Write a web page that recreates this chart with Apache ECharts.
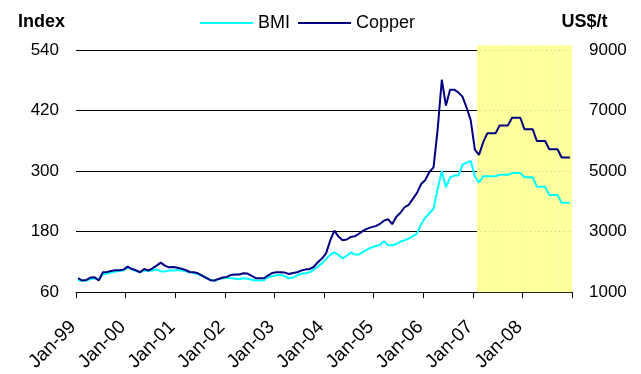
<!DOCTYPE html>
<html>
<head>
<meta charset="utf-8">
<script src="https://cdn.jsdelivr.net/npm/echarts@6/dist/echarts.min.js"></script>
<style>
  html, body { margin: 0; padding: 0; background: #ffffff; }
  #chart { width: 641px; height: 374px; }
</style>
</head>
<body>
<div id="chart"></div>
<script>
// Monthly categories, Jan-99 .. Dec-08
const years = ['99', '00', '01', '02', '03', '04', '05', '06', '07', '08'];
const monthNames = ['Jan', 'Feb', 'Mar', 'Apr', 'May', 'Jun', 'Jul', 'Aug', 'Sep', 'Oct', 'Nov', 'Dec'];
const months = [];
years.forEach(y => monthNames.forEach(m => months.push(m + '-' + y)));

// Base metals index (left axis)
const bmi = [
  84, 82.6, 83, 86, 87.5, 85, 95, 97, 99, 101, 102, 103,
  109, 105, 102, 100, 103, 102, 103, 105, 101, 101, 103, 103,
  104, 103, 102, 99, 98, 96, 92.5, 88.5, 84.6, 82.6, 85.6, 87.5,
  88.5, 87.5, 86.6, 85.6, 87.5, 86.6, 84.6, 83, 83, 83.6, 89.5, 91.5,
  93.4, 94.4, 91.5, 87.5, 88.5, 93.4, 96.4, 97.4, 99.3, 104.3, 110.2, 117,
  125.9, 133.8, 138.7, 133.8, 126.9, 131.8, 138.7, 134.7, 134.7, 139.7, 144.6, 148.5,
  151.5, 153.4, 160.9, 153.4, 153, 155.4, 160.3, 162.9, 166.2, 171.1, 176.1, 194.7,
  207.5, 216.4, 225.2, 264.6, 300, 267.9, 287.2, 291.1, 291.1, 312.8, 316.7, 320.2,
  289.2, 277.4, 289.5, 289.5, 289.5, 289.5, 292.7, 292.7, 292.7, 296, 296, 296,
  287.6, 287.6, 287.6, 269.1, 269.1, 269.1, 252.8, 252.8, 252.8, 237, 237, 237
];

// Copper price, US$/t (right axis)
const copper = [
  1459, 1384, 1403, 1482, 1492, 1384, 1656, 1666, 1699, 1721, 1721, 1744,
  1843, 1764, 1721, 1656, 1764, 1712, 1787, 1875, 1974, 1875, 1820, 1830,
  1803, 1771, 1731, 1666, 1656, 1623, 1548, 1469, 1393, 1384, 1436, 1482,
  1502, 1567, 1580, 1580, 1623, 1612, 1535, 1459, 1459, 1459, 1557, 1633,
  1656, 1656, 1645, 1600, 1633, 1656, 1712, 1744, 1764, 1830, 1990, 2110,
  2280, 2700, 3033, 2836, 2715, 2738, 2826, 2849, 2935, 3033, 3099, 3148,
  3180, 3253, 3361, 3410, 3246, 3492, 3623, 3804, 3886, 4082, 4279, 4574,
  4705, 4968, 5122, 6378, 8017, 7165, 7689, 7689, 7601, 7460, 7099, 6673,
  5705, 5535, 5950, 6246, 6246, 6246, 6509, 6509, 6509, 6761, 6761, 6761,
  6378, 6378, 6378, 5994, 5994, 5994, 5722, 5722, 5722, 5450, 5450, 5450
];

// Axis ranges
const indexAxis = { min: 60, max: 540, step: 120 };
const priceAxis = { min: 1000, max: 9000, step: 2000 };

// Forecast period, shaded in yellow
const forecastStart = 'Feb-07';
const forecastFrom = months.indexOf(forecastStart);
const forecastBand = months.map((m, i) => (i >= forecastFrom ? 102 : '-'));

const FONT = '"Liberation Sans", Arial, sans-serif';

const chart = echarts.init(document.getElementById('chart'), null, { renderer: 'canvas' });

chart.setOption({
  animation: false,
  backgroundColor: '#ffffff',
  textStyle: { fontFamily: FONT, color: '#000' },
  grid: { left: 76, right: 69, top: 50, bottom: 80, containLabel: false },
  legend: {
    data: ['BMI', 'Copper'],
    left: 200,
    top: 14,
    padding: 0,
    icon: 'rect',
    itemWidth: 53,
    itemHeight: 2,
    itemGap: 8,
    textStyle: { fontFamily: FONT, fontSize: 18, color: '#000' }
  },
  xAxis: {
    type: 'category',
    data: months,
    boundaryGap: true,
    axisLine: { show: true, lineStyle: { color: '#000', width: 1 } },
    axisTick: { show: true, interval: 11, length: 6, lineStyle: { color: '#000' } },
    axisLabel: {
      interval: 11,
      rotate: 45,
      margin: 27,
      padding: [0, 7, 0, 0],
      fontFamily: FONT,
      fontSize: 19,
      color: '#000'
    },
    splitLine: { show: false }
  },
  yAxis: [
    {
      type: 'value',
      min: indexAxis.min,
      max: indexAxis.max,
      interval: indexAxis.step,
      name: 'Index',
      nameLocation: 'end',
      nameGap: 28,
      nameTextStyle: {
        fontFamily: FONT, fontSize: 18, fontWeight: 'bold', color: '#000',
        align: 'right', verticalAlign: 'middle', padding: [0, 11, 0, 0]
      },
      axisLine: { show: false },
      axisTick: { show: false },
      axisLabel: { margin: 17, fontFamily: FONT, fontSize: 17, color: '#000' },
      splitLine: { show: true, lineStyle: { color: '#000', width: 1 } }
    },
    {
      type: 'value',
      position: 'right',
      min: priceAxis.min,
      max: priceAxis.max,
      interval: priceAxis.step,
      name: 'US$/t',
      nameLocation: 'end',
      nameGap: 28,
      nameTextStyle: {
        fontFamily: FONT, fontSize: 18, fontWeight: 'bold', color: '#000',
        align: 'center', verticalAlign: 'middle', padding: [0, 0, 0, 25]
      },
      axisLine: { show: false },
      axisTick: { show: false },
      axisLabel: {
        margin: 17, fontFamily: FONT, fontSize: 17, color: '#000',
        formatter: v => String(v)
      },
      splitLine: { show: false }
    },
    {
      // hidden percentage scale used for the forecast shading
      type: 'value',
      show: false,
      min: 0,
      max: 100,
      splitLine: { show: false }
    }
  ],
  series: [
    {
      name: 'Forecast',
      type: 'bar',
      yAxisIndex: 2,
      data: forecastBand,
      barCategoryGap: '0%',
      barGap: '0%',
      clip: false,
      silent: true,
      z: 1,
      itemStyle: { color: '#FFFF99', borderColor: '#FFFF99', borderWidth: 0.8 }
    },
    {
      name: 'BMI',
      type: 'line',
      yAxisIndex: 0,
      data: bmi,
      symbol: 'none',
      z: 3,
      color: '#00FFFF',
      lineStyle: { color: '#00FFFF', width: 2 }
    },
    {
      name: 'Copper',
      type: 'line',
      yAxisIndex: 1,
      data: copper,
      symbol: 'none',
      z: 4,
      color: '#000080',
      lineStyle: { color: '#000080', width: 2 }
    }
  ]
});
</script>
</body>
</html>
